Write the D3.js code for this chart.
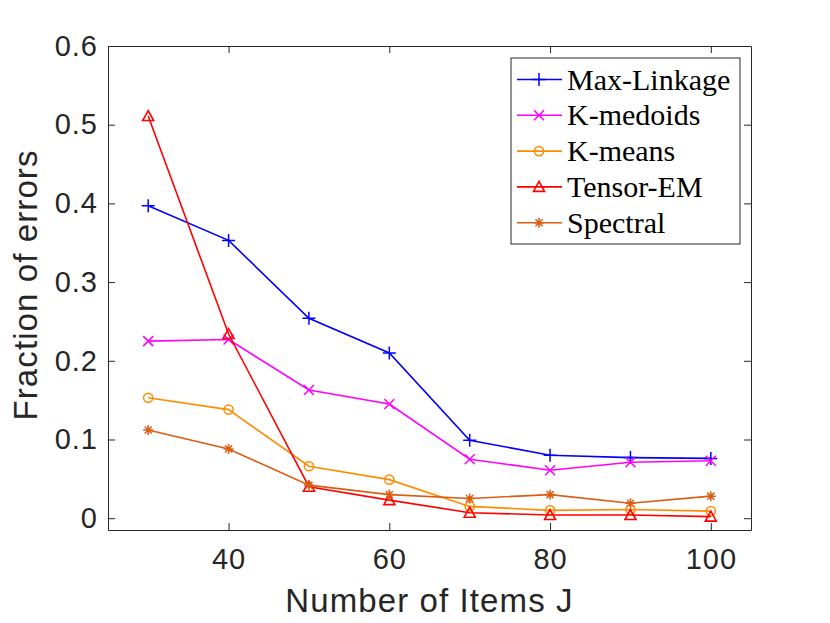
<!DOCTYPE html>
<html>
<head>
<meta charset="utf-8">
<script src="https://cdn.jsdelivr.net/npm/d3@7"></script>
<style>
  body { margin: 0; background: #fff; }
  .tick text { font-family: "Liberation Sans", Arial, sans-serif; font-size: 29px; letter-spacing: 1px; fill: #262626; }
  .axis-title { font-family: "Liberation Sans", Arial, sans-serif; font-size: 33px; letter-spacing: 1.1px; fill: #262626; }
  .legend text { font-family: "Liberation Serif", "DejaVu Serif", serif; font-size: 30px; fill: #000; }
</style>
</head>
<body>
<script>
var itemsJ = [30, 40, 50, 60, 70, 80, 90, 100];
var maxLinkage = [0.397, 0.353, 0.254, 0.210, 0.099, 0.080, 0.077, 0.076];
var kMedoids = [0.225, 0.227, 0.163, 0.145, 0.075, 0.061, 0.071, 0.073];
var kMeans = [0.153, 0.138, 0.066, 0.049, 0.015, 0.010, 0.011, 0.009];
var tensorEM = [0.511, 0.234, 0.040, 0.023, 0.007, 0.004, 0.004, 0.002];
var spectral = [0.112, 0.088, 0.042, 0.030, 0.025, 0.030, 0.019, 0.028];
var xTicks = [40, 60, 80, 100];
var yTicks = [0, 0.1, 0.2, 0.3, 0.4, 0.5, 0.6];

var series = [
  { name: 'Max-Linkage', values: maxLinkage, color: '#0000ff', marker: 'plus' },
  { name: 'K-medoids', values: kMedoids, color: '#ff00ff', marker: 'cross' },
  { name: 'K-means', values: kMeans, color: '#ff8c00', marker: 'circle' },
  { name: 'Tensor-EM', values: tensorEM, color: '#ff0000', marker: 'triangle' },
  { name: 'Spectral', values: spectral, color: '#d95d12', marker: 'star' }
];

var width = 830, height = 623;
var margin = { left: 108, right: 79, top: 46, bottom: 93 };
var axisColor = '#262626';

var svg = d3.select('body').append('svg').attr('width', width).attr('height', height);

var x = d3.scaleLinear().domain([25, 105]).range([margin.left, width - margin.right]);
var y = d3.scaleLinear().domain([-0.015, 0.6]).range([height - margin.bottom, margin.top]);

// axes with inward ticks, box on all four sides
svg.append('g').attr('transform', `translate(0,${y.range()[0]})`)
  .call(d3.axisBottom(x).tickValues(xTicks).tickSizeInner(-7).tickSizeOuter(0).tickPadding(18));
svg.append('g').attr('transform', `translate(0,${y.range()[1]})`)
  .call(d3.axisTop(x).tickValues(xTicks).tickSizeInner(-7).tickSizeOuter(0).tickFormat(''));
svg.append('g').attr('transform', `translate(${x.range()[0]},0)`)
  .call(d3.axisLeft(y).tickValues(yTicks).tickSizeInner(-7).tickSizeOuter(0).tickPadding(10)
    .tickFormat(function (d) { return d === 0 ? '0' : d3.format('.1f')(d); }));
svg.append('g').attr('transform', `translate(${x.range()[1]},0)`)
  .call(d3.axisRight(y).tickValues(yTicks).tickSizeInner(-7).tickSizeOuter(0).tickFormat(''));

svg.selectAll('.domain, .tick line').attr('stroke', axisColor).attr('stroke-width', 1);

svg.append('text').attr('class', 'axis-title')
  .attr('x', (x.range()[0] + x.range()[1]) / 2).attr('y', 612)
  .attr('text-anchor', 'middle').text('Number of Items J');

svg.append('text').attr('class', 'axis-title')
  .attr('transform', `translate(37,${(y.range()[0] + y.range()[1]) / 2 - 3}) rotate(-90)`)
  .attr('text-anchor', 'middle').text('Fraction of errors');

function drawMarker(sel, type, color) {
  var s = 6.5;
  if (type === 'plus') {
    sel.append('path').attr('d', `M${-s},0H${s}M0,${-s}V${s}`).attr('stroke', color).attr('stroke-width', 1.5).attr('fill', 'none');
  } else if (type === 'cross') {
    var c = 5;
    sel.append('path').attr('d', `M${-c},${-c}L${c},${c}M${-c},${c}L${c},${-c}`).attr('stroke', color).attr('stroke-width', 1.5).attr('fill', 'none');
  } else if (type === 'circle') {
    sel.append('circle').attr('r', 4.6).attr('stroke', color).attr('stroke-width', 1.5).attr('fill', 'none');
  } else if (type === 'triangle') {
    sel.append('path').attr('d', 'M0,-5.5L5.5,4.5L-5.5,4.5Z').attr('stroke', color).attr('stroke-width', 1.6).attr('fill', 'none');
  } else if (type === 'star') {
    var r = 5, d = '';
    [0, 45, 90, 135].forEach(function (a) {
      var t = a * Math.PI / 180;
      d += `M${-r * Math.cos(t)},${-r * Math.sin(t)}L${r * Math.cos(t)},${r * Math.sin(t)}`;
    });
    sel.append('path').attr('d', d).attr('stroke', color).attr('stroke-width', 1.5).attr('fill', 'none');
  }
}

var line = d3.line().x(function (d) { return x(d[0]); }).y(function (d) { return y(d[1]); });

series.forEach(function (s) {
  var pts = itemsJ.map(function (j, i) { return [j, s.values[i]]; });
  svg.append('path').datum(pts).attr('d', line)
    .attr('fill', 'none').attr('stroke', s.color).attr('stroke-width', 1.6);
  svg.append('g').selectAll('g').data(pts).enter().append('g')
    .attr('transform', function (d) { return `translate(${x(d[0])},${y(d[1])})`; })
    .each(function () { drawMarker(d3.select(this), s.marker, s.color); });
});

// legend
var legend = svg.append('g').attr('class', 'legend');
var lx = 511, ly = 58, lw = 229, lh = 186, rowH = 35.8;
legend.append('rect').attr('x', lx).attr('y', ly).attr('width', lw).attr('height', lh)
  .attr('fill', '#fff').attr('stroke', axisColor).attr('stroke-width', 1);
series.forEach(function (s, i) {
  var cy = ly + 21.5 + i * rowH;
  var row = legend.append('g');
  row.append('line').attr('x1', lx + 6).attr('x2', lx + 51).attr('y1', cy).attr('y2', cy)
    .attr('stroke', s.color).attr('stroke-width', 1.6);
  var m = row.append('g').attr('transform', `translate(${lx + 28},${cy})`);
  drawMarker(m, s.marker, s.color);
  row.append('text').attr('x', lx + 56).attr('y', cy + 10).text(s.name);
});
</script>
</body>
</html>
